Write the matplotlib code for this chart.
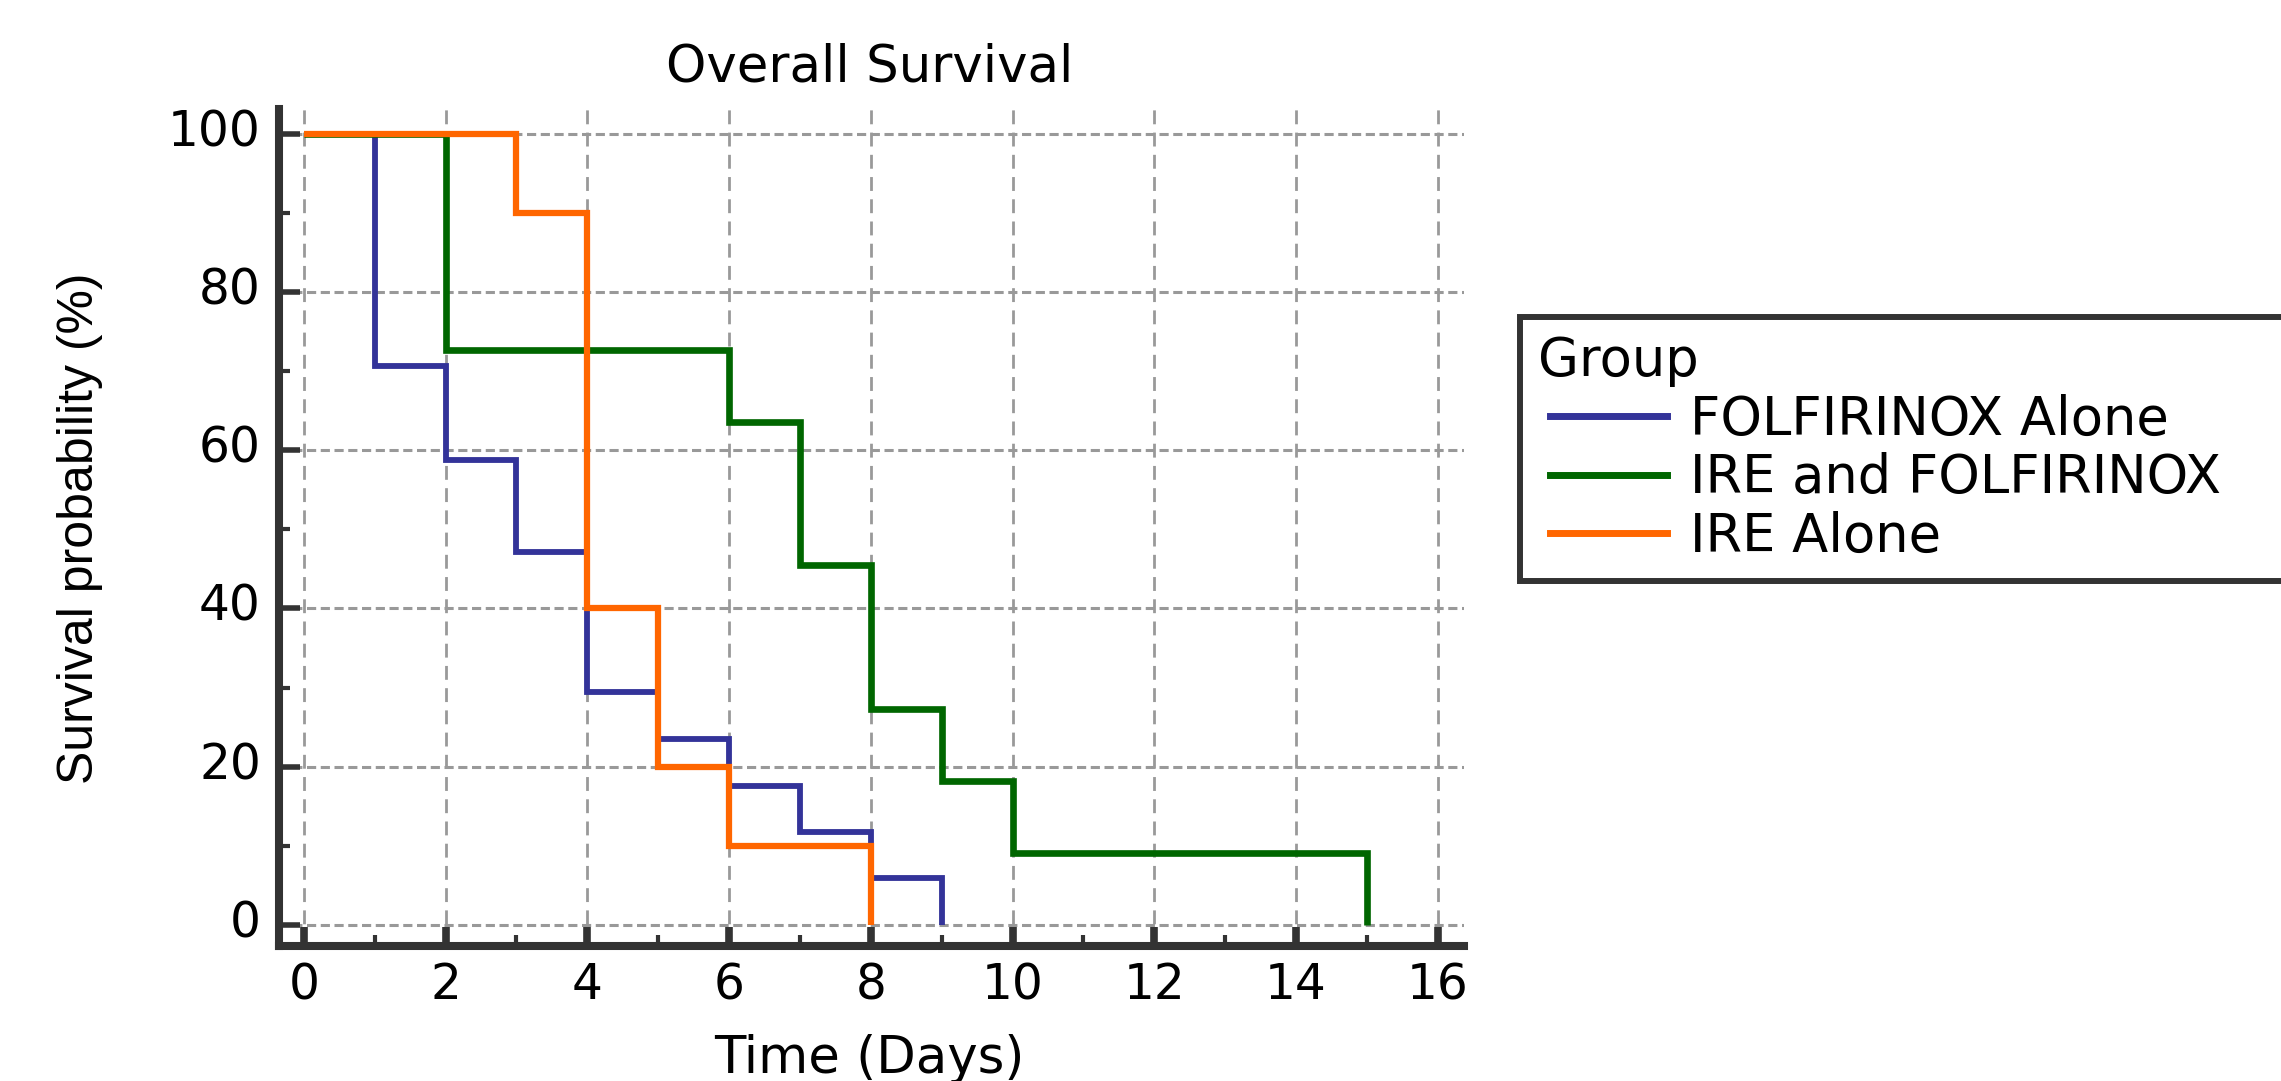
import matplotlib
matplotlib.use("Agg")
import matplotlib.pyplot as plt
import matplotlib.transforms as mtransforms
from matplotlib.lines import Line2D
from matplotlib.legend_handler import HandlerLine2D
from matplotlib.ticker import MultipleLocator

plt.rcParams['font.family'] = ['DejaVu Sans']

# Kaplan-Meier steps (time in days, survival in %)
groups = ["FOLFIRINOX Alone", "IRE and FOLFIRINOX", "IRE Alone"]
colors = ["#333399", "#006600", "#ff6600"]

folfirinox_days = [0, 1, 2, 3, 4, 5, 6, 7, 8, 9]
folfirinox_surv = [100, 70.6, 58.8, 47.1, 29.4, 23.5, 17.6, 11.8, 5.9, 0]

ire_folf_days = [0, 2, 6, 7, 8, 9, 10, 15]
ire_folf_surv = [100, 72.7, 63.6, 45.5, 27.3, 18.2, 9.1, 0]

ire_days = [0, 3, 4, 5, 6, 8]
ire_surv = [100, 90, 40, 20, 10, 0]

x_ticks = [0, 2, 4, 6, 8, 10, 12, 14, 16]
y_ticks = [0, 20, 40, 60, 80, 100]

W, H = 2281, 1081
fig = plt.figure(figsize=(W / 100, H / 100), dpi=100)
ax = fig.add_axes([279 / W, 1 - 946 / H, (1464 - 279) / W, (946 - 109) / H])

series = [(folfirinox_days, folfirinox_surv, 4.2),
          (ire_folf_days, ire_folf_surv, 4.8),
          (ire_days, ire_surv, 4.5)]
for (days, surv, lw), col in zip(series, colors):
    ax.plot(days, surv, drawstyle='steps-post', color=col, lw=lw,
            solid_joinstyle='miter', solid_capstyle='butt')

ax.set_xlim(-0.35, 16.37)
ax.set_ylim(-2.65, 103.1)
ax.set_xticks(x_ticks)
ax.set_yticks(y_ticks)
ax.xaxis.set_minor_locator(MultipleLocator(1))
ax.yaxis.set_minor_locator(MultipleLocator(10))

ax.set_axisbelow(True)
ax.grid(True, axis='x', which='major', color='#999999', lw=2, linestyle=(0, (5, 3)))
ax.grid(True, axis='y', which='major', color='#999999', lw=2.2, linestyle=(0, (3, 1.5)))

for side in ['top', 'right']:
    ax.spines[side].set_visible(False)
for side in ['left', 'bottom']:
    ax.spines[side].set_linewidth(5.8)
    ax.spines[side].set_color('#333333')

ax.tick_params(which='major', direction='in', color='#333333', labelsize=35)
ax.tick_params(axis='x', which='major', length=14, width=5.5, pad=11)
ax.tick_params(axis='y', which='major', length=15, width=4, pad=13)
ax.tick_params(which='minor', direction='in', length=8, width=3, color='#333333')

# y tick labels sit a little above their ticks in the original
shift = mtransforms.ScaledTranslation(0, 0.065, fig.dpi_scale_trans)
for lab in ax.get_yticklabels():
    lab.set_transform(lab.get_transform() + shift)

fig.text(870 / W, 1 - 81 / H, "Overall Survival", ha='center', va='baseline', fontsize=37)
fig.text(869 / W, 1 - 1073 / H, "Time (Days)", ha='center', va='baseline', fontsize=37)
fig.text(80 / W, 1 - 528 / H, "Survival probability (%)", ha='center', va='center',
         rotation=90, fontsize=36, family=['Liberation Sans', 'DejaVu Sans'])

handles = [Line2D([], [], color=c, lw=5) for c in colors]
leg = fig.legend(handles, groups, loc='upper left',
                 bbox_to_anchor=(1520 / W, 1 - 317 / H - 0.3, (2340 - 1520) / W, 0.3),
                 mode='expand', title='Group',
                 fontsize=38, title_fontsize=38, frameon=True, fancybox=False,
                 edgecolor='#333333', framealpha=1, borderpad=0.35, borderaxespad=0,
                 handlelength=2.43, handletextpad=0.44, labelspacing=0.12,
                 alignment='left', handler_map={Line2D: HandlerLine2D(xpad=0.22)})
leg.get_frame().set_linewidth(4.3)

fig.savefig("out.png", dpi=100)
